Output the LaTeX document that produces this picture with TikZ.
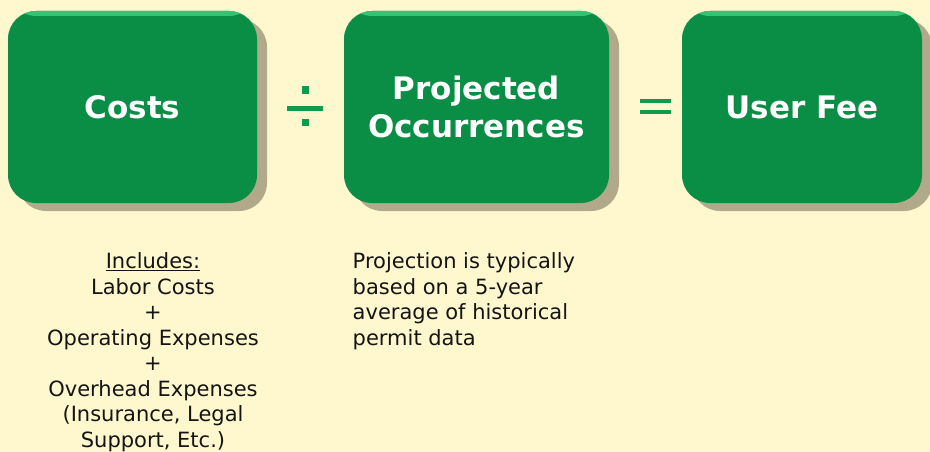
\documentclass[tikz,border=0pt]{standalone}
\usepackage{fontspec}
\setmainfont{DejaVu Sans}
\usetikzlibrary{shadows}
\definecolor{bgc}{RGB}{255,248,207}
\definecolor{boxg}{RGB}{10,142,70}
\definecolor{boxlight}{RGB}{52,196,115}
\definecolor{shadc}{RGB}{177,169,138}
\definecolor{symg}{RGB}{16,154,78}
\definecolor{txt}{RGB}{20,20,20}
\tikzset{
  greenbox/.style={rounded corners=28pt, fill=boxg, minimum height=192pt,
    text=white, align=center, inner sep=0pt,
    font={\bfseries\fontsize{31}{38}\selectfont},
    drop shadow={shadow xshift=10pt, shadow yshift=-8pt, fill=shadc, opacity=1},
    path picture={\shade[top color=boxlight, bottom color=boxg]
      (path picture bounding box.north west) rectangle
      ([yshift=-5pt]path picture bounding box.north east);}},
  bodytext/.style={text=txt, inner sep=0pt, font={\fontsize{21}{25.5}\selectfont}},
  symbar/.style={fill=symg, draw=none}
}
\begin{document}
\begin{tikzpicture}[x=1pt,y=-1pt]
\useasboundingbox[fill=bgc] (0,0) rectangle (930,452);
\node[greenbox, minimum width=249pt] (costs) at (132.5,107) {Costs};
\node[greenbox, minimum width=265pt] (proj) at (476.5,107) {Projected\\Occurrences};
\node[greenbox, minimum width=240pt] (fee) at (802,107) {User Fee};
% division sign
\coordinate (div) at (305.3,108.2);
\fill[symbar] ([xshift=-18pt,yshift=-2.5pt]div) rectangle ([xshift=18pt,yshift=2.5pt]div);
\fill[symbar] ([xshift=-3.5pt,yshift=14.5pt]div) rectangle ([xshift=3.5pt,yshift=21.8pt]div);
\fill[symbar] ([xshift=-3.5pt,yshift=-10.5pt]div) rectangle ([xshift=3.5pt,yshift=-17.8pt]div);
% equals sign
\coordinate (eq) at (655.5,106.8);
\fill[symbar] ([xshift=-15.5pt,yshift=3.5pt]eq) rectangle ([xshift=15.5pt,yshift=7.5pt]eq);
\fill[symbar] ([xshift=-15.5pt,yshift=-3.2pt]eq) rectangle ([xshift=15.5pt,yshift=-7.5pt]eq);
% texts
\node[bodytext, align=center, anchor=north] (inc) at (153,252.5)
  {\underline{Includes:}\\Labor Costs\\+\\Operating Expenses\\+\\Overhead Expenses\\(Insurance, Legal\\Support, Etc.)};
\node[bodytext, align=left, anchor=north west] (projtxt) at (352.5,252.5)
  {Projection is typically\\based on a 5-year\\average of historical\\permit data};
\end{tikzpicture}
\end{document}
